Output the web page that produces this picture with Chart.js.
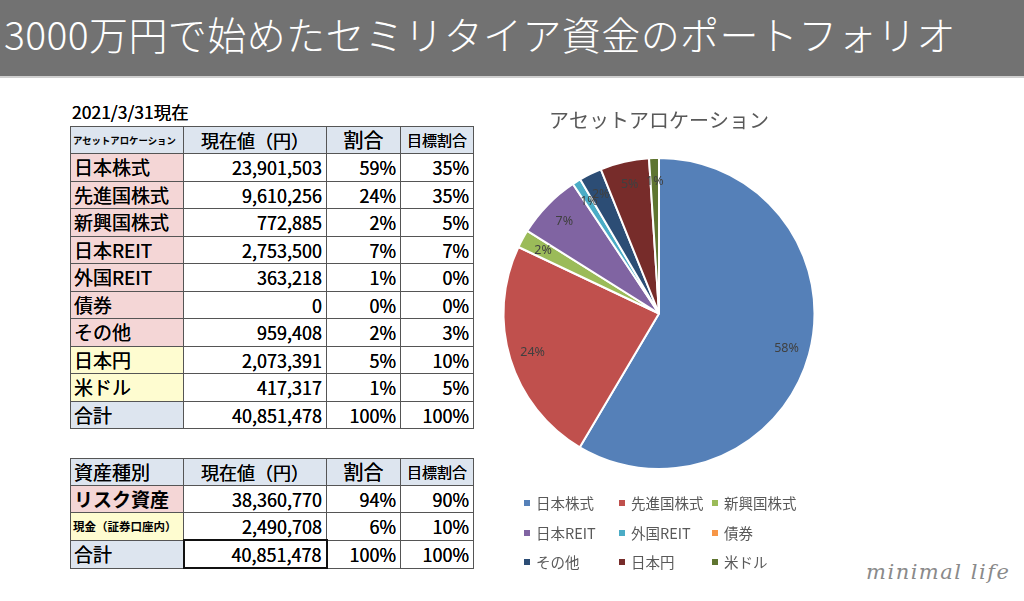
<!DOCTYPE html>
<html lang="ja">
<head>
<meta charset="utf-8">
<script src="https://cdn.jsdelivr.net/npm/chart.js@4/dist/chart.umd.min.js"></script>
<style>
  html, body { margin: 0; padding: 0; background: #fff; }
  body { width: 1024px; height: 601px; position: relative; overflow: hidden;
         font-family: "Noto Sans CJK JP", "Noto Sans", sans-serif; color: #111; }
  #titlebar { position: absolute; left: 0; top: 0; width: 1024px; height: 76px;
              background: #727272; border-bottom: 2px solid #d0d0d0; }
  #titlebar span { position: absolute; left: 4px; top: 9px; font-size: 39px; line-height: 48px;
                   color: #fff; font-weight: 300; white-space: nowrap; letter-spacing: 0.4px; }
  #date { position: absolute; left: 72px; top: 100px; font-size: 17.5px; line-height: 24px; color: #000;
          text-shadow: 0 0 0.5px #000; }
  table { position: absolute; border-collapse: collapse; table-layout: fixed; }
  td { border: 1px solid #555; padding: 0 4px; white-space: nowrap; overflow: hidden;
       font-size: 18px; line-height: 26px; color: #000; text-shadow: 0 0 0.6px #000; }
  td.num { text-align: right; }
  td.name { font-size: 19px; padding-left: 3px; }
  tr.hdr td { background: #dde5ef; text-align: center; font-size: 19px; }
  .pink { background: #f4d6d6; }
  .yellow { background: #fefcd0; }
  .blue { background: #dde5ef; }
  #t1 { left: 70px; top: 126px; }
  #t2 { left: 70px; top: 458px; }
  #chartwrap { position: absolute; left: 495px; top: 95px; width: 345px; height: 490px; }
  #mark { position: absolute; left: 866px; top: 560px; font-family: "DejaVu Serif", serif;
          font-style: italic; font-size: 21px; color: #8a8a8a; letter-spacing: 1.5px; font-weight: 300; }
</style>
</head>
<body>
<div id="titlebar"><span>3000万円で始めたセミリタイア資金のポートフォリオ</span></div>
<div id="date">2021/3/31現在</div>
<table id="t1"></table>
<table id="t2"></table>
<div id="chartwrap"><canvas id="c" width="345" height="490"></canvas></div>
<div id="mark">minimal life</div>
<script>
// ---- data ----
const categories = ['日本株式', '先進国株式', '新興国株式', '日本REIT', '外国REIT', '債券', 'その他', '日本円', '米ドル'];
const currentValues = [23901503, 9610256, 772885, 2753500, 363218, 0, 959408, 2073391, 417317];
const ratioLabels = ['59%', '24%', '2%', '7%', '1%', '0%', '2%', '5%', '1%'];
const targetLabels = ['35%', '35%', '5%', '7%', '0%', '0%', '3%', '10%', '5%'];
const pieLabels = ['58%', '24%', '2%', '7%', '1%', '', '2%', '5%', '1%'];
const totalLabel = '合計';
const totalValue = 40851478;
const totalRatio = '100%';
const totalTarget = '100%';

const assetTypes = ['リスク資産', '現金（証券口座内）'];
const assetTypeValues = [38360770, 2490708];
const assetTypeRatios = ['94%', '6%'];
const assetTypeTargets = ['90%', '10%'];

const headers1 = ['アセットアロケーション', '現在値（円）', '割合', '目標割合'];
const headers2 = ['資産種別', '現在値（円）', '割合', '目標割合'];
const chartTitle = 'アセットアロケーション';
const sliceColors = ['#5580b8', '#c0504d', '#9bbb59', '#8064a2', '#4bacc6', '#f79646', '#2c4d75', '#772c2a', '#5f7530'];

// ---- tables ----
const fmt = v => v.toLocaleString('en-US');
const colW = [113, 143, 74, 73];
function colgroup() { return '<colgroup>' + colW.map(w => `<col style="width:${w}px">`).join('') + '</colgroup>'; }

let h1 = colgroup();
h1 += '<tr class="hdr" style="height:27px">' +
  `<td style="font-size:9.4px;text-align:left;padding-left:2px;font-weight:bold;text-shadow:none">${headers1[0]}</td>` +
  `<td style="font-size:18px">${headers1[1]}</td><td style="font-size:20px">${headers1[2]}</td><td style="font-size:15px">${headers1[3]}</td></tr>`;
categories.forEach((c, i) => {
  const cls = i >= 7 ? 'yellow' : 'pink';
  h1 += `<tr style="height:27.5px"><td class="name ${cls}">${c}</td><td class="num">${fmt(currentValues[i])}</td>` +
        `<td class="num">${ratioLabels[i]}</td><td class="num">${targetLabels[i]}</td></tr>`;
});
h1 += `<tr style="height:27.5px"><td class="name blue">${totalLabel}</td><td class="num">${fmt(totalValue)}</td>` +
      `<td class="num">${totalRatio}</td><td class="num">${totalTarget}</td></tr>`;
document.getElementById('t1').innerHTML = h1;

let h2 = colgroup();
h2 += '<tr class="hdr" style="height:27px">' +
  `<td style="text-align:left;padding-left:3px">${headers2[0]}</td>` +
  `<td style="font-size:18px">${headers2[1]}</td><td style="font-size:20px">${headers2[2]}</td><td style="font-size:15px">${headers2[3]}</td></tr>`;
assetTypes.forEach((c, i) => {
  const cls = i === 0 ? 'pink' : 'yellow';
  const st = i === 0 ? 'font-weight:bold;font-size:19px;text-shadow:none' : 'font-size:11.5px;font-weight:bold;padding-left:2px;text-shadow:none';
  h2 += `<tr style="height:27px"><td class="name ${cls}" style="${st}">${c}</td><td class="num">${fmt(assetTypeValues[i])}</td>` +
        `<td class="num">${assetTypeRatios[i]}</td><td class="num">${assetTypeTargets[i]}</td></tr>`;
});
h2 += `<tr style="height:27px"><td class="name blue">${totalLabel}</td><td class="num" style="border:2px solid #111">${fmt(totalValue)}</td>` +
      `<td class="num">${totalRatio}</td><td class="num">${totalTarget}</td></tr>`;
document.getElementById('t2').innerHTML = h2;

// ---- chart ----
const labelPlugin = {
  id: 'sliceLabels',
  afterDatasetsDraw(chart) {
    const ctx = chart.ctx;
    const meta = chart.getDatasetMeta(0);
    ctx.save();
    ctx.font = '12.5px "Noto Sans", "Noto Sans CJK JP", sans-serif';
    ctx.fillStyle = '#404040';
    ctx.textAlign = 'center';
    ctx.textBaseline = 'middle';
    meta.data.forEach((arc, i) => {
      if (!pieLabels[i]) return;
      const p = arc.getProps(['x', 'y', 'startAngle', 'endAngle', 'outerRadius'], true);
      const mid = (p.startAngle + p.endAngle) / 2;
      const r = p.outerRadius * 0.85;
      ctx.fillText(pieLabels[i], p.x + Math.cos(mid) * r, p.y + Math.sin(mid) * r);
    });
    ctx.restore();
  }
};

const gridLegend = {
  id: 'gridLegend',
  afterDraw(chart) {
    const ctx = chart.ctx;
    const colX = [32, 127, 220];
    const rowY = [408, 438, 467];
    ctx.save();
    ctx.font = '14.5px "Noto Sans CJK JP", sans-serif';
    ctx.textBaseline = 'middle';
    ctx.textAlign = 'left';
    chart.data.labels.forEach((lab, i) => {
      const x = colX[i % 3], y = rowY[Math.floor(i / 3)];
      ctx.fillStyle = chart.data.datasets[0].backgroundColor[i];
      ctx.fillRect(x - 3, y - 3, 6, 6);
      ctx.fillStyle = '#595959';
      ctx.fillText(lab, x + 9, y);
    });
    ctx.restore();
  }
};

new Chart(document.getElementById('c'), {
  type: 'pie',
  data: {
    labels: categories,
    datasets: [{
      data: currentValues,
      backgroundColor: sliceColors,
      borderColor: '#ffffff',
      borderWidth: 2
    }]
  },
  options: {
    responsive: false,
    animation: false,
    layout: { padding: { top: 0, left: 0, right: 17, bottom: 115 } },
    plugins: {
      legend: { display: false },
      tooltip: { enabled: false },
      title: {
        display: true,
        text: chartTitle,
        color: '#595959',
        font: { size: 20, family: '"Noto Sans CJK JP", sans-serif', weight: 'normal', lineHeight: 1.2 },
        padding: { top: 13, bottom: 25 }
      }
    }
  },
  plugins: [labelPlugin, gridLegend]
});
</script>
</body>
</html>
